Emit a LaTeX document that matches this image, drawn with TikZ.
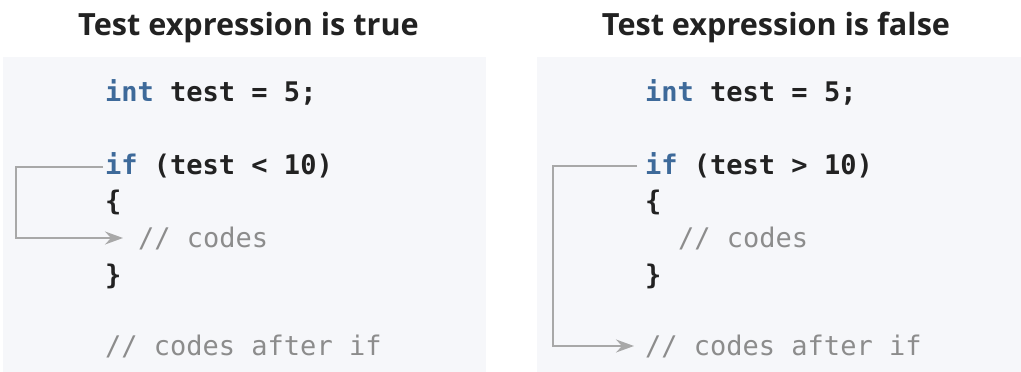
\documentclass[tikz,border=0pt]{standalone}
\usepackage{fontspec}
\setmonofont{DejaVu Sans Mono}
\newfontfamily\titlefont{Open Sans}
\usetikzlibrary{arrows.meta}
\definecolor{panelbg}{HTML}{F6F7FA}
\definecolor{kwblue}{HTML}{3E6A9A}
\definecolor{cmtgray}{HTML}{8C8C8C}
\definecolor{codeblk}{HTML}{222222}
\definecolor{arrowgray}{HTML}{A8A8A8}
\tikzset{
  title/.style={anchor=base, inner sep=0pt, text=codeblk, font=\titlefont\bfseries\fontsize{30.6}{36}\selectfont},
  code/.style={anchor=base west, inner sep=0pt, text=codeblk, font=\ttfamily\bfseries\fontsize{27}{32}\selectfont},
  cmt/.style={code, text=cmtgray, font=\ttfamily\fontsize{27}{32}\selectfont},
  flow/.style={draw=arrowgray, line width=1.4pt, -{Stealth[length=18pt,width=13pt,inset=6pt]}},
}
\newcommand{\kw}[1]{\textcolor{kwblue}{#1}}
\begin{document}
\begin{tikzpicture}[x=1pt,y=-1pt]
\useasboundingbox (0,0) rectangle (1021,372);
\fill[white] (0,0) rectangle (1021,372);
% panels
\fill[panelbg] (3,57) rectangle (486,372);
\fill[panelbg] (537,57) rectangle (1021,372);
% titles
\node[title] (t1) at (248.5,35) {Test expression is true};
\node[title] (t2) at (776,35) {Test expression is false};
% left code
\node[code] (l1) at (105,101) {\kw{int} test = 5;};
\node[code] (lif) at (105,174) {\kw{if} (test < 10)};
\node[code] (lob) at (105,210) {\{};
\node[cmt] (lc) at (138,247) {// codes};
\node[code] (lcb) at (105,284) {\}};
\node[cmt] (la) at (105,355) {// codes after if};
% right code
\node[code] (r1) at (645,101) {\kw{int} test = 5;};
\node[code] (rif) at (645,174) {\kw{if} (test > 10)};
\node[code] (rob) at (645,210) {\{};
\node[cmt] (rc) at (678,247) {// codes};
\node[code] (rcb) at (645,284) {\}};
\node[cmt] (ra) at (645,355) {// codes after if};
% arrows
\coordinate (lstart) at ([xshift=-2,yshift=7]lif.base west);
\coordinate (lend) at ([xshift=-15,yshift=9]lc.base west);
\draw[flow] (lstart) -- ++(-87,0) |- (lend);
\coordinate (rstart) at ([xshift=-8,yshift=8]rif.base west);
\coordinate (rend) at ([xshift=-11,yshift=9]ra.base west);
\draw[flow] (rstart) -- ++(-84,0) |- (rend);
\end{tikzpicture}
\end{document}
